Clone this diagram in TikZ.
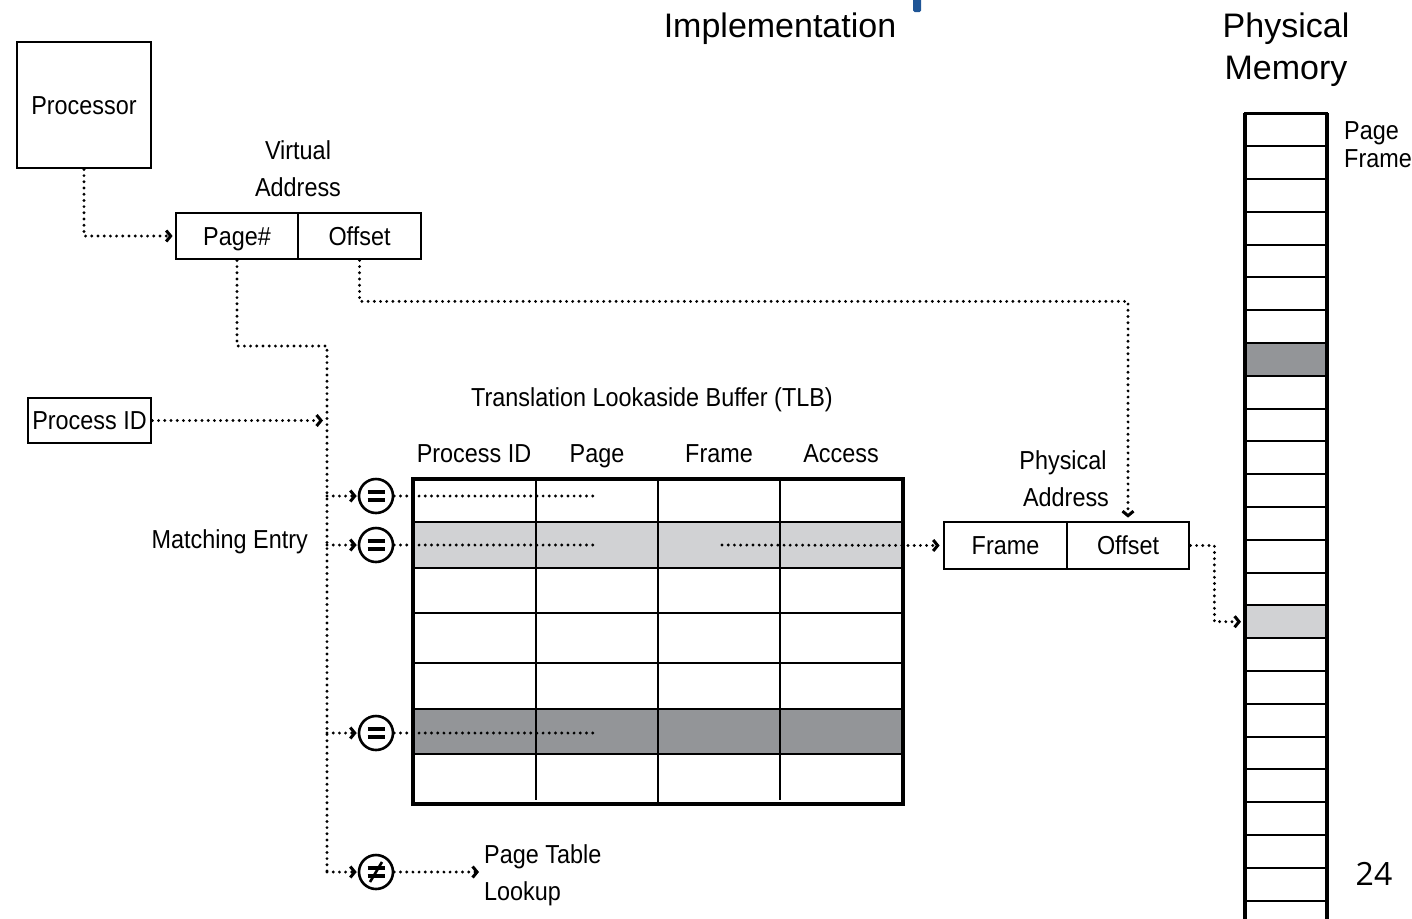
\documentclass[tikz,border=0pt]{standalone}
\usepackage{fontspec}
\setmainfont{Liberation Sans}
\newfontfamily\condfont[FakeStretch=0.9]{Liberation Sans}
\newfontfamily\pagenumfont{Open Sans}
\usetikzlibrary{arrows.meta}

\definecolor{lightrow}{HTML}{D1D2D4}
\definecolor{darkrow}{HTML}{939598}
\definecolor{accentblue}{HTML}{1F5596}

\begin{document}
\begin{tikzpicture}[x=1pt,y=-1pt,
  lbl/.style={font=\condfont\fontsize{26}{30}\selectfont, inner sep=0pt,
              text height=18.6pt, text depth=0pt},
  heading/.style={font=\fontsize{34}{40}\selectfont, inner sep=0pt,
              text height=24.3pt, text depth=0pt},
  box/.style={lbl, draw, line width=2.8pt, minimum height=46pt},
  dots/.style={line width=3.2pt, line cap=round, dash pattern=on 0pt off 6.2pt},
  tip/.style={-{Straight Barb[length=4.5pt,width=11pt,line width=3pt]}},
  cmp/.style={circle, draw, line width=2.6pt, minimum size=34pt, inner sep=0pt},
  cell/.style={draw, line width=2pt, minimum width=82pt, minimum height=32.8pt,
               inner sep=0pt, outer sep=0pt},
]
\useasboundingbox (0,0) rectangle (1412,918);

% ---- headings ----
\node[heading] (impl) at (780,25) {Implementation};
\fill[accentblue, rounded corners=1.5pt] (913,-4) rectangle (921,12);
\node[heading] (pm1) at (1286,25) {Physical};
\node[heading] (pm2) at (1286,67) {Memory};

% ---- processor and virtual address ----
\node[box, minimum width=134pt, minimum height=126pt] (proc) at (84,105) {Processor};
\node[lbl] (va1) at (298,150) {Virtual};
\node[lbl] (va2) at (298,187) {Address};
\node[box, minimum width=122pt] (vpage) at (237,236) {Page\#};
\node[box, minimum width=123pt] (voff) at (359.5,236) {Offset};

\node[box, minimum width=123pt, minimum height=45pt] (pid) at (89.5,420.5) {Process ID};
\node[lbl, anchor=east] (match) at (308,539) {Matching Entry};

% ---- TLB ----
\node[lbl] (tlbtitle) at (652,397) {Translation Lookaside Buffer (TLB)};
\node[lbl] (hPid) at (474,453) {Process ID};
\node[lbl] (hPage) at (597,453) {Page};
\node[lbl] (hFrame) at (719,453) {Frame};
\node[lbl] (hAccess) at (841,453) {Access};

\fill[lightrow] (413,522) rectangle (903,568);
\fill[darkrow] (413,709) rectangle (903,754);
\foreach \y in {522,568,613,663,709,754}
  \draw[line width=2.2pt] (413,\y) -- (903,\y);
\draw[line width=2.2pt] (536,479) -- (536,800);
\draw[line width=2.2pt] (658,479) -- (658,804);
\draw[line width=2.2pt] (780,479) -- (780,800);
\node[draw, line width=3.2pt, minimum width=490pt, minimum height=325pt, inner sep=0pt]
  (tlb) at (658,641.5) {};

% ---- comparators ----
\node[cmp] (eq1) at (376,496) {};
\node[cmp] (eq2) at (376,545) {};
\node[cmp] (eq3) at (376,733) {};
\node[cmp] (neq) at (376,872) {};
\foreach \c in {eq1,eq2,eq3,neq} {
  \draw[line width=3.2pt] ([xshift=-8.5pt,yshift=4pt]\c.center) -- ++(17pt,0);
  \draw[line width=3.2pt] ([xshift=-8.5pt,yshift=-4pt]\c.center) -- ++(17pt,0);
}
\draw[line width=2.6pt] ([xshift=-6pt,yshift=-10pt]neq.center) -- ([xshift=6pt,yshift=10pt]neq.center);

\node[lbl, anchor=west] (ptl1) at (484,854) {Page Table};
\node[lbl, anchor=west] (ptl2) at (484,891) {Lookup};

% ---- physical address ----
\node[lbl] (pa1) at (1063,460) {Physical};
\node[lbl] (pa2) at (1066,497) {Address};
\node[box, minimum width=123pt, minimum height=47pt] (pframe) at (1005.5,545.5) {Frame};
\node[box, minimum width=122pt, minimum height=47pt] (poff) at (1128,545.5) {Offset};

% ---- physical memory ----
\begin{scope}
\clip (0,0) rectangle (1412,918);
\foreach \i in {0,...,24} {
  \ifnum\i=7 \def\cellfill{darkrow}\else\ifnum\i=15 \def\cellfill{lightrow}\else\def\cellfill{white}\fi\fi
  \node[cell, fill=\cellfill] (m\i) at (1286,{129.7+\i*32.8}) {};
}
\draw[line width=3.2pt] (m0.north west) -- (m24.south west);
\draw[line width=3.2pt] (m0.north east) -- (m24.south east);
\draw[line width=3.2pt] (m0.north west) -- (m0.north east);
\end{scope}
\node[lbl, anchor=west] (pf1) at (1344,130) {Page};
\node[lbl, anchor=west] (pf2) at (1344,158) {Frame};

\node[font=\pagenumfont\fontsize{32}{36}\selectfont, inner sep=0pt, anchor=base]
  (pgnum) at (1374,885) {24};

% ---- connectors ----
\coordinate (busTop) at (327,346);
\coordinate (busBot) at (327,872);
\coordinate (frameSrc) at (722,545);
\coordinate (lookupEnd) at (479,872);

\draw[dots, tip, shorten >=2pt] (proc.south) |- (vpage.west);
\draw[dots] (vpage.south) |- (busTop) -- (busBot);
\draw[dots, tip, shorten >=4pt] (pid.east) -- (pid.east -| busTop);
\foreach \c in {eq1,eq2,eq3}
  \draw[dots, tip, shorten >=1pt] (\c.west -| busTop) -- (\c.west);
\draw[dots, tip, shorten >=1pt] (busBot) -- (neq.west);
\foreach \c in {eq1,eq2,eq3}
  \draw[dots] (\c.east) -- (\c.east -| hPage);
\draw[dots, tip, shorten >=3pt] (frameSrc) -- (pframe.west);
\draw[dots, tip] (neq.east) -- (lookupEnd);
\draw[dots, tip, shorten >=3pt] (voff.south) -- ++(0,41) -| (poff.north);
\draw[dots, tip, shorten >=4pt] (poff.east) -- ++(24,0) |- (m15.west);
\end{tikzpicture}
\end{document}
